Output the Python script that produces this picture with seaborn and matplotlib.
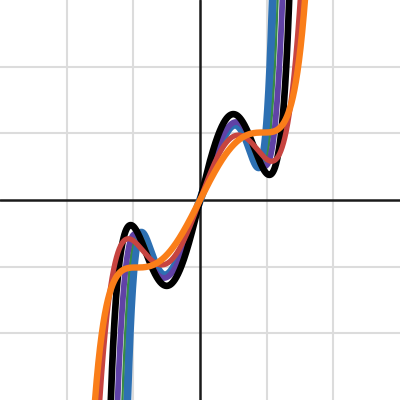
import numpy as np
import matplotlib
matplotlib.use("Agg")
import matplotlib.pyplot as plt
import seaborn as sns
from numpy.polynomial import polynomial as P

# curve names, colours, line widths
names = ["blue", "green", "purple", "black", "red", "orange"]
colors = ["#2d70b3", "#388c46", "#6042a6", "#000000", "#c74440", "#fa7e19"]
widths = [5.8, 1.6, 4.2, 4.8, 3.8, 4.6]

# values (positive half; curves are odd):
# local max x, local max y, local min x, local min y
blue_ext = [0.525, 1.13, 0.88, 0.49]
green_ext = [0.535, 1.15, 0.93, 0.5]
purple_ext = [0.54, 1.17, 0.975, 0.51]
# x where the curve reaches y=2 and y=3
blue_exit = [(1.15, 2), (1.2, 3)]
green_exit = [(1.19, 2), (1.25, 3)]
purple_exit = [(1.23, 2), (1.29, 3)]

# estimated odd-polynomial coefficients {power: coefficient}
black_coef = {1: 4.0515, 3: -6.6505, 5: 2.9966, 15: 0.0033178, 17: -0.014416, 19: 0.0096868}
red_coef = {1: 2.6939, 3: -3.493, 5: 1.4101}
orange_coef = {1: 1.9841, 3: -1.4656, 5: 0.55914, 7: -0.11391, 9: 0.049082}

xs = np.linspace(-3, 3, 6001)


def from_dict(d):
    c = np.zeros(40)
    for p, v in d.items():
        c[p] = v
    return c


def two_term(ext, pts):
    a, ya, b, yb = ext
    base = P.polymul([-a * a, 0, 1], [-b * b, 0, 1])
    B0 = P.polyint(base)
    best = None
    for m in range(1, 8):
        Bm = P.polyint(P.polymul(base, [0] * (2 * m) + [1]))
        A = np.array([[P.polyval(a, B0), P.polyval(a, Bm)],
                      [P.polyval(b, B0), P.polyval(b, Bm)]])
        try:
            q = np.linalg.solve(A, [ya, yb])
        except Exception:
            continue
        if (q < 0).any():
            continue
        full = np.zeros(40)
        full[:len(B0)] += q[0] * B0
        full[:len(Bm)] += q[1] * Bm
        ys = P.polyval(xs, full)
        err = 0.0
        for xt, yt in pts:
            mask = (xs > 0) & (ys >= yt)
            xe = xs[np.argmax(mask)] if mask.any() else 3.0
            err += (xe - xt) ** 2
        if best is None or err < best[0]:
            best = (err, full)
    if best is None:
        full = np.zeros(40)
        full[:len(B0)] = B0 * (ya / P.polyval(a, B0))
        return full
    return best[1]


coefs = {
    "blue": two_term(blue_ext, blue_exit),
    "green": two_term(green_ext, green_exit),
    "purple": two_term(purple_ext, purple_exit),
    "black": from_dict(black_coef),
    "red": from_dict(red_coef),
    "orange": from_dict(orange_coef),
}

sns.set_style("white")
fig, ax = plt.subplots(figsize=(4, 4), dpi=100)
fig.subplots_adjust(0, 0, 1, 1)
for i in [-2, -1, 1, 2]:
    ax.axvline(i, color="#dcdcdc", lw=1.5, zorder=0)
    ax.axhline(i, color="#dcdcdc", lw=1.5, zorder=0)
ax.axvline(0, color="#1a1a1a", lw=1.8, zorder=1)
ax.axhline(0, color="#1a1a1a", lw=1.8, zorder=1)
for n, col, w in zip(names, colors, widths):
    ys = P.polyval(xs, coefs[n])
    ys = np.where(np.abs(ys) > 50, np.sign(ys) * 50, ys)
    sns.lineplot(x=xs, y=ys, ax=ax, color=col, lw=w, sort=False, zorder=3)
ax.set_xlim(-3, 3)
ax.set_ylim(-3, 3)
for s in ax.spines.values():
    s.set_visible(False)
ax.set_xticks([])
ax.set_yticks([])
ax.set_xlabel("")
ax.set_ylabel("")
fig.savefig("out.png", dpi=100)
